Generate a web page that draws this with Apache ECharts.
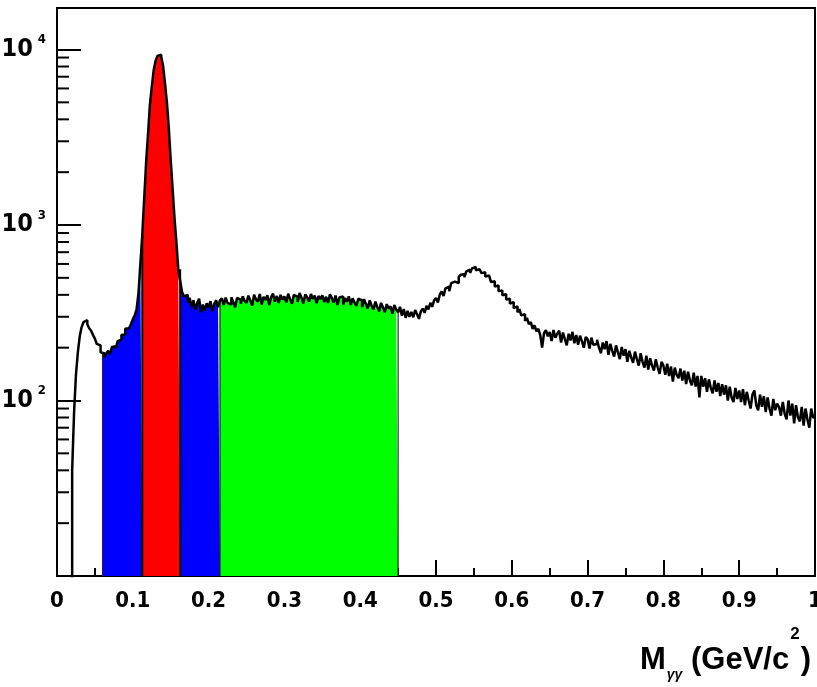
<!DOCTYPE html>
<html><head><meta charset="utf-8">
<script src="https://cdn.jsdelivr.net/npm/echarts@6.0.0/dist/echarts.min.js"></script>
<style>html,body{margin:0;padding:0;background:#fff}#c{width:817px;height:687px}</style>
</head><body><div id="c"></div>
<script>
// ---------------- data ----------------
const binWidth = 0.0025;           // GeV/c^2 per bin, bins from 0 to 1
const counts = [
  0,0,0,0,0,0,0,0,40,85,140,188,232,262,280,287,272,258,250,236,
  225,210,206,188,186,176,186,192,184,202,204,198,218,222,236,238,256,258,264,272,
  290,306,330,410,600,880,1400,2250,3250,4800,6100,7600,8600,9200,9350,9100,8050,6400,5000,3550,
  2350,1620,1100,800,560,480,415,392,400,362,385,340,372,330,360,380,318,352,326,358,
  340,368,322,356,372,340,372,382,350,386,360,352,388,364,340,384,376,356,392,370,
  360,396,372,348,400,378,366,404,352,390,374,398,350,388,406,366,394,360,400,376,
  392,362,406,378,356,400,390,364,410,386,358,402,388,366,404,380,396,358,394,378,
  398,364,390,360,402,384,362,396,350,386,392,352,384,366,392,350,382,362,346,380,
  372,340,378,356,334,372,348,330,366,342,322,360,340,318,354,334,344,312,350,330,
  318,342,304,332,296,324,300,320,298,328,310,292,322,334,316,346,330,360,342,372,
  384,362,402,418,394,436,446,420,466,476,488,466,506,520,524,504,544,556,532,566,
  576,552,560,564,532,538,508,516,506,474,478,446,452,420,424,398,404,376,380,356,
  364,336,344,318,332,306,310,284,296,272,280,256,268,248,256,236,200,242,252,232,
  246,218,252,228,240,250,214,244,224,206,240,220,246,212,236,208,234,218,200,230,
  224,198,228,208,210,222,200,186,214,196,218,182,210,192,178,206,188,172,202,180,
  196,166,192,176,164,190,172,158,186,166,154,180,150,174,158,148,172,154,142,166,
  158,140,162,138,156,128,154,140,134,152,130,148,124,146,130,122,144,120,138,104,
  138,120,134,112,132,118,110,130,112,126,106,124,108,122,100,120,104,98,118,102,
  114,98,116,94,112,100,90,108,114,94,88,108,92,106,86,104,90,82,102,88,
  96,92,82,98,84,78,100,82,96,74,94,80,76,92,72,90,78,70,90,80
];
// selection windows (GeV/c^2)
const sideBandLow  = [0.06, 0.1125];
const signalWindow = [0.1125, 0.1625];
const sideBandHigh = [0.1625, 0.215];
const bkgWindow    = [0.215, 0.45];
// axis ticks
const xTicks = [0, 0.1, 0.2, 0.3, 0.4, 0.5, 0.6, 0.7, 0.8, 0.9, 1];
const yDecades = [100, 1000, 10000];
const yMinorTicks = [20,30,40,50,60,70,80,90,200,300,400,500,600,700,800,900,2000,3000,4000,5000,6000,7000,8000,9000];
const xRange = [0, 1];
const yRange = [10, 17240];

// ---------------- build ----------------
const EMPTY = 1; // empty bins drawn below the log axis floor (clipped)
const pts = counts.map((c, i) => [+(i * binWidth).toFixed(5), c > 0 ? c : EMPTY]);
pts.push([xRange[1], pts[pts.length - 1][1]]);

function regionPts(r) {
  const i0 = Math.round(r[0] / binWidth), i1 = Math.round(r[1] / binWidth);
  const out = [];
  for (let i = i0; i < i1; i++) out.push(pts[i]);
  out.push([r[1], pts[i1 - 1][1]]);
  return out;
}
function edgeVal(x) {
  const i = Math.round(x / binWidth);
  return Math.max(counts[i - 1] || EMPTY, counts[i] || EMPTY);
}
const edges = [sideBandLow[0], signalWindow[0], signalWindow[1], bkgWindow[0], bkgWindow[1]];
const edgeStyle = [
  {stroke:'#222', lineWidth:1},
  {stroke:'#000', lineWidth:2},
  {stroke:'#000', lineWidth:2},
  {stroke:'#000', lineWidth:1},
  {stroke:'#000', lineWidth:1}
];

const NARROW = '"Liberation Sans Narrow","DejaVu Sans Condensed","Arial Narrow","Liberation Sans",sans-serif';
const WIDE = '"Liberation Sans",Arial,Helvetica,sans-serif';

function areaSeries(r, color) {
  return {
    type:'line', step:'end', data: regionPts(r), showSymbol:false, silent:true,
    lineStyle:{width:0, color:color}, areaStyle:{color:color, opacity:1, origin:'start'}, z:2
  };
}

const chart = echarts.init(document.getElementById('c'), null, {renderer:'canvas'});
chart.setOption({
  animation:false,
  backgroundColor:'#fff',
  grid:{left:57, right:2, top:8, bottom:111, containLabel:false, outerBoundsMode:'none',
        show:true, borderColor:'#000', borderWidth:2, backgroundColor:'transparent'},
  xAxis:{
    type:'value', min:xRange[0], max:xRange[1], interval:0.1,
    axisLine:{lineStyle:{color:'#000', width:2}},
    axisTick:{inside:true, length:16, lineStyle:{color:'#000', width:2}},
    minorTick:{show:true, splitNumber:2, length:8, lineStyle:{color:'#000', width:2}},
    splitLine:{show:false},
    axisLabel:{
      margin:14, color:'#000', fontFamily:NARROW, fontWeight:'bold', fontSize:22,
      formatter:function(v){
        const t = xTicks.find(q => Math.abs(q - v) < 1e-6);
        if (t === undefined) return '';
        return (t === 0 || t === 1) ? String(t) : t.toFixed(1);
      }
    }
  },
  yAxis:{
    type:'log', logBase:10, min:yRange[0], max:yRange[1],
    axisLine:{lineStyle:{color:'#000', width:2}},
    axisTick:{inside:true, length:24, lineStyle:{color:'#000', width:2}},
    splitLine:{show:false},
    axisLabel:{
      margin:11, padding:[0,0,4,0],
      formatter:function(v){
        const d = yDecades.find(q => Math.abs(q - v) < q * 1e-6);
        if (d === undefined) return '';
        return '{b|10}{s|' + Math.round(Math.log10(d)) + '}';
      },
      rich:{
        b:{fontFamily:NARROW, fontWeight:'bold', fontSize:25, color:'#000', lineHeight:28, verticalAlign:'bottom', padding:[8,0,0,0]},
        s:{fontFamily:NARROW, fontWeight:'bold', fontSize:13, color:'#000', lineHeight:13, verticalAlign:'top', padding:[0,0,0,5]}
      }
    }
  },
  graphic:[{
    type:'text', right:6, top:626, z:10,
    style:{
      text:'{m|M}{g|γγ}{t| (GeV/c}{p|2}{t|)}',
      rich:{
        m:{fontFamily:WIDE, fontWeight:'bold', fontSize:31, fill:'#000', lineHeight:68, verticalAlign:'middle'},
        g:{fontFamily:WIDE, fontWeight:'bold', fontStyle:'italic', fontSize:14, fill:'#000', lineHeight:20, verticalAlign:'bottom', padding:[0,0,12,1]},
        t:{fontFamily:WIDE, fontWeight:'bold', fontSize:31, fill:'#000', lineHeight:34, verticalAlign:'middle'},
        p:{fontFamily:WIDE, fontWeight:'bold', fontSize:17, fill:'#000', lineHeight:17, verticalAlign:'top', padding:[0,1,0,1]}
      }
    }
  }],
  series:[
    {
      type:'custom', z:1, silent:true,
      data: yMinorTicks.map(v => [xRange[0], v]),
      renderItem:function(params, api){
        const p = api.coord([api.value(0), api.value(1)]);
        return {type:'line', shape:{x1:p[0], y1:p[1], x2:p[0] + 12, y2:p[1]}, style:{stroke:'#000', lineWidth:2}};
      }
    },
    areaSeries(sideBandLow, '#0000ff'),
    areaSeries(signalWindow, '#ff0000'),
    areaSeries(sideBandHigh, '#0000ff'),
    areaSeries(bkgWindow, '#00ff00'),
    {
      type:'line', step:'end', data:pts, showSymbol:false, silent:true, clip:true,
      lineStyle:{color:'#000', width:2.5}, z:3
    },
    {
      type:'custom', z:4, silent:true,
      data: edges.map(x => [x, edgeVal(x)]),
      renderItem:function(params, api){
        const top = api.coord([api.value(0), api.value(1)]);
        const bot = api.coord([api.value(0), yRange[0]]);
        return {type:'line', shape:{x1:top[0], y1:top[1], x2:bot[0], y2:bot[1]}, style:edgeStyle[params.dataIndex]};
      }
    }
  ]
});
</script></body></html>
